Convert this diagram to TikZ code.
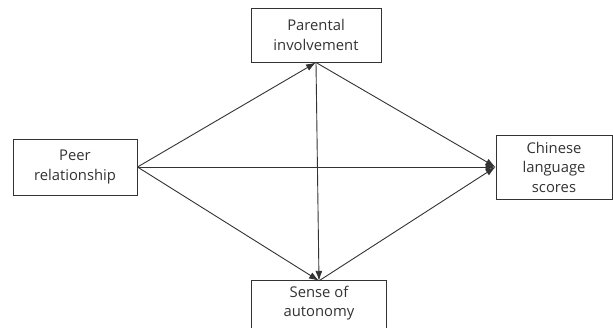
\documentclass[tikz,border=0pt]{standalone}
\usepackage{fontspec}
\setmainfont{Open Sans}
\usetikzlibrary{arrows.meta}
\definecolor{ink}{HTML}{333333}
\begin{document}
\begin{tikzpicture}[x=1pt,y=-1pt,
  txt/.style={text=ink,align=center,inner sep=0pt,
    font=\fontsize{14.8}{19.5}\selectfont},
  box/.style={txt,draw=ink,line width=1pt},
  link/.style={draw=ink,line width=0.9pt,-{Latex[length=10pt,width=7pt]}}]
\useasboundingbox (0,0) rectangle (613,327);
\fill[white] (0,0) rectangle (613,327);
\node[box,minimum width=130pt,minimum height=54pt] (par) at (316,35) {Parental\\involvement};
\node[box,minimum width=124pt,minimum height=56pt] (peer) at (75,167) {Peer\\relationship};
\node[box,minimum width=116pt,minimum height=64pt] (chi) at (554,167) {Chinese\\language\\scores};
\node[txt,minimum width=135pt,minimum height=44pt] (sen) at (319,303) {Sense of\\autonomy};
\draw[ink,line width=1pt] ([yshift=-20pt]sen.south west) -- (sen.north west) -- (sen.north east) -- ([yshift=-20pt]sen.south east);
\draw[link] (peer.east) -- (par.south);
\draw[link] (peer.east) -- (sen.north);
\draw[link] (peer.east) -- (chi.west);
\draw[link] (par.south) -- (sen.north);
\draw[link] (par.south) -- (chi.west);
\draw[link] (sen.north) -- (chi.west);
\end{tikzpicture}
\end{document}
